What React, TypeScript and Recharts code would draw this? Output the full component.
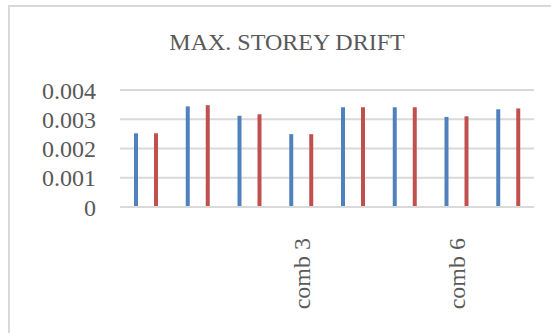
import React from "react";
import { BarChart, Bar, XAxis, YAxis, CartesianGrid } from "recharts";

// Load combinations along the category axis (first row has no label)
const categories = ["", "comb 1", "comb 2", "comb 3", "comb 4", "comb 5", "comb 6", "comb 7"];
// Maximum storey drift per combination, two directions
const driftX = [0.00252, 0.00344, 0.00312, 0.00249, 0.00341, 0.00341, 0.00308, 0.00334];
const driftY = [0.00252, 0.00348, 0.00317, 0.00249, 0.00341, 0.00341, 0.0031, 0.00337];
const yTicks = [0, 0.001, 0.002, 0.003, 0.004];

const data = categories.map((name, i) => ({ name, driftX: driftX[i], driftY: driftY[i] }));

const FONT = "'Liberation Serif', 'Times New Roman', serif";
const TEXT = "#595959";

const RotatedTick = (props: any) => {
  const { x, y, payload } = props;
  if (!payload || !payload.value) return null;
  return (
    <g transform={`translate(${x},${y})`}>
      <text
        transform="rotate(-90)"
        x={-31}
        y={0}
        dy="0.35em"
        textAnchor="end"
        fill={TEXT}
        fontSize={24}
        fontFamily={FONT}
      >
        {payload.value}
      </text>
    </g>
  );
};

export default function App() {
  return (
    <div style={{ position: "relative", width: 551, height: 333, overflow: "hidden", background: "#fff" }}>
      <style>{"body{margin:0}"}</style>
      <div
        style={{
          position: "absolute",
          left: 8,
          top: 5,
          width: 700,
          height: 500,
          border: "2px solid #D9D9D9",
          boxSizing: "border-box",
        }}
      />
      <svg width={551} height={333} style={{ position: "absolute", left: 0, top: 0 }}>
        <text x={287} y={50} textAnchor="middle" fill={TEXT} fontSize={24} fontFamily={FONT}>
          MAX. STOREY DRIFT
        </text>
      </svg>
      <div style={{ position: "absolute", left: 0, top: 0 }}>
        <BarChart
          width={551}
          height={333}
          data={data}
          margin={{ top: 90, right: 17, left: 0, bottom: 0 }}
          barSize={4}
          barGap={16}
        >
          <CartesianGrid vertical={false} stroke="#D9D9D9" strokeWidth={2} />
          <XAxis
            dataKey="name"
            height={126}
            interval={2}
            tickLine={false}
            tickSize={0}
            tickMargin={0}
            axisLine={{ stroke: "#D9D9D9", strokeWidth: 2 }}
            tick={<RotatedTick />}
          />
          <YAxis
            width={120}
            domain={[0, 0.004]}
            ticks={yTicks}
            interval={0}
            axisLine={false}
            tickLine={false}
            tickSize={0}
            tickMargin={24}
            tick={{ fill: TEXT, fontSize: 24, fontFamily: FONT }}
          />
          <Bar dataKey="driftX" fill="#4F81BD" isAnimationActive={false} />
          <Bar dataKey="driftY" fill="#C0504D" isAnimationActive={false} />
        </BarChart>
      </div>
    </div>
  );
}
